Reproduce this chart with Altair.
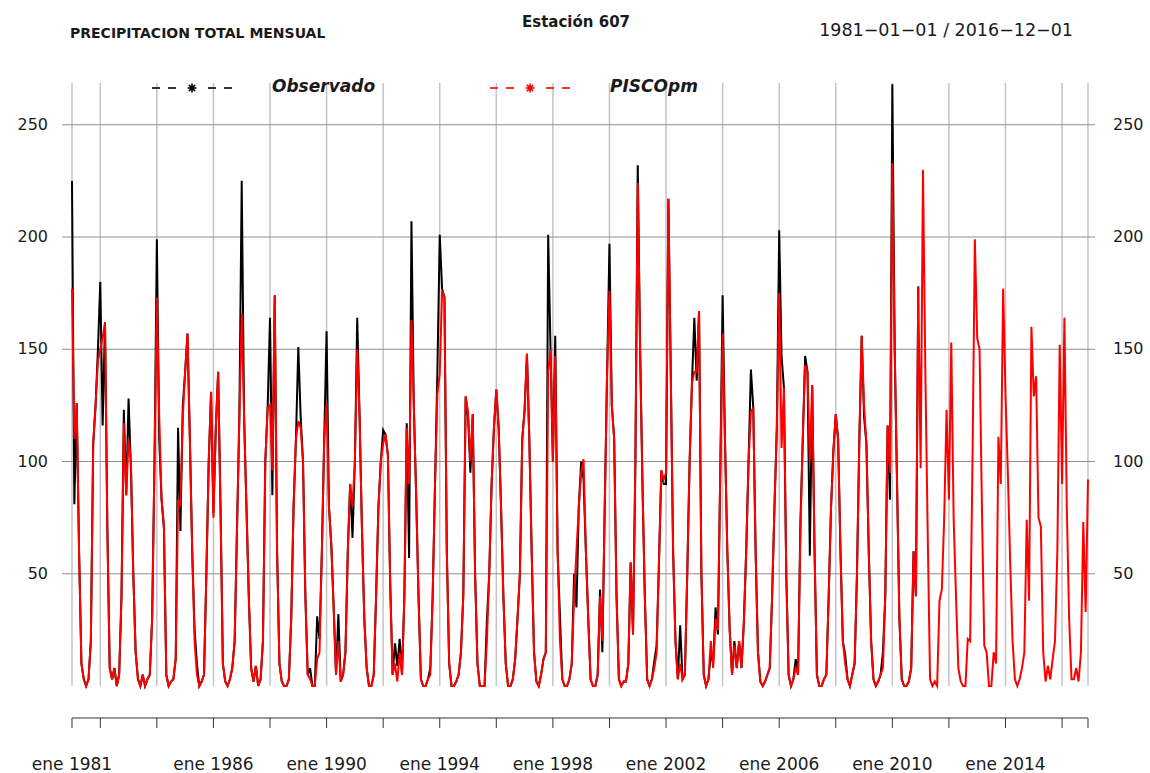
import altair as alt
import pandas as pd

# Monthly totals (mm), one row per year, January..December
PISCO_1981_1990 = [
    [177, 110, 126, 60, 10, 3, 0, 3, 20, 108, 125, 145],
    [150, 155, 162, 70, 8, 3, 8, 0, 5, 40, 117, 85],
    [110, 100, 50, 15, 3, 0, 5, 0, 3, 5, 30, 100],
    [173, 120, 83, 72, 5, 0, 2, 3, 12, 83, 81, 120],
    [140, 157, 110, 60, 20, 5, 0, 2, 5, 50, 100, 131],
    [75, 115, 140, 80, 10, 2, 0, 3, 8, 20, 70, 120],
    [166, 120, 80, 40, 8, 2, 9, 0, 3, 20, 100, 124],
    [125, 96, 174, 60, 10, 2, 0, 0, 3, 30, 80, 110],
    [118, 115, 100, 40, 5, 3, 0, 0, 12, 15, 60, 110],
    [126, 80, 63, 35, 5, 20, 2, 5, 15, 60, 90, 80],
]
PISCO_1991_2000 = [
    [100, 150, 120, 70, 30, 8, 0, 0, 5, 40, 80, 100],
    [108, 112, 103, 45, 5, 10, 2, 15, 5, 40, 115, 90],
    [163, 125, 85, 40, 3, 0, 0, 3, 5, 40, 90, 130],
    [139, 176, 173, 60, 10, 0, 0, 2, 5, 15, 40, 129],
    [122, 100, 121, 50, 10, 0, 0, 0, 20, 50, 90, 115],
    [132, 115, 80, 40, 10, 0, 0, 3, 12, 30, 50, 110],
    [123, 148, 110, 60, 15, 2, 0, 5, 12, 15, 140, 150],
    [100, 147, 60, 20, 3, 0, 0, 3, 10, 40, 60, 80],
    [95, 101, 60, 30, 3, 0, 0, 5, 40, 20, 80, 140],
    [176, 125, 110, 40, 3, 0, 2, 2, 10, 55, 23, 100],
]
PISCO_2001_2010 = [
    [224, 150, 90, 40, 3, 0, 3, 8, 15, 55, 96, 92],
    [95, 217, 140, 60, 20, 3, 10, 3, 5, 50, 100, 135],
    [140, 140, 167, 50, 5, 0, 3, 20, 8, 30, 25, 95],
    [157, 110, 60, 25, 5, 18, 8, 20, 8, 28, 60, 100],
    [122, 124, 60, 15, 2, 0, 2, 5, 8, 40, 80, 115],
    [175, 106, 133, 50, 5, 0, 3, 8, 5, 68, 110, 143],
    [140, 100, 134, 60, 5, 0, 0, 3, 5, 40, 80, 105],
    [121, 110, 60, 20, 10, 3, 0, 5, 10, 50, 110, 156],
    [125, 108, 60, 20, 3, 0, 2, 5, 8, 40, 116, 95],
    [233, 150, 90, 30, 3, 0, 0, 2, 8, 60, 40, 178],
]
PISCO_2011_2016 = [
    [97, 230, 140, 68, 3, 0, 2, 0, 38, 43, 75, 123],
    [83, 153, 75, 40, 8, 2, 0, 0, 21, 20, 100, 199],
    [155, 150, 80, 18, 15, 0, 0, 15, 10, 111, 90, 177],
    [130, 95, 55, 20, 3, 0, 3, 8, 15, 74, 38, 160],
    [129, 138, 75, 71, 15, 2, 9, 3, 12, 20, 60, 152],
    [90, 164, 80, 30, 3, 3, 8, 2, 15, 73, 33, 92],
]

OBS_1981_1990 = [
    [225, 81, 126, 60, 10, 3, 0, 3, 20, 108, 125, 150],
    [180, 116, 162, 70, 8, 3, 8, 0, 5, 40, 123, 85],
    [128, 97, 50, 15, 3, 0, 5, 0, 3, 5, 30, 100],
    [199, 110, 83, 70, 5, 0, 2, 3, 12, 115, 69, 125],
    [140, 157, 110, 60, 25, 10, 0, 2, 5, 50, 100, 131],
    [77, 115, 140, 80, 10, 2, 0, 3, 8, 20, 70, 120],
    [225, 120, 80, 40, 8, 2, 9, 0, 3, 20, 100, 124],
    [164, 85, 174, 60, 10, 2, 0, 0, 3, 30, 80, 110],
    [151, 120, 100, 40, 5, 8, 0, 0, 31, 21, 60, 110],
    [158, 80, 63, 35, 5, 32, 2, 5, 15, 60, 90, 66],
]
OBS_1991_2000 = [
    [100, 164, 120, 70, 30, 8, 0, 0, 5, 40, 80, 100],
    [114, 112, 103, 45, 5, 19, 9, 21, 5, 40, 117, 57],
    [207, 125, 85, 40, 3, 0, 0, 3, 8, 40, 90, 140],
    [201, 177, 173, 60, 10, 0, 0, 2, 5, 15, 41, 129],
    [120, 95, 121, 50, 10, 0, 0, 0, 29, 50, 90, 115],
    [132, 115, 80, 40, 10, 0, 0, 3, 12, 30, 50, 110],
    [123, 148, 110, 60, 15, 2, 0, 5, 12, 15, 201, 150],
    [100, 156, 60, 31, 3, 0, 0, 3, 10, 50, 35, 80],
    [100, 92, 60, 30, 3, 0, 0, 5, 43, 15, 80, 140],
    [197, 125, 110, 40, 3, 0, 2, 2, 10, 55, 23, 100],
]
OBS_2001_2010 = [
    [232, 150, 90, 40, 3, 0, 3, 11, 18, 55, 96, 90],
    [90, 217, 140, 60, 20, 3, 27, 3, 5, 50, 100, 135],
    [164, 136, 167, 50, 5, 0, 3, 15, 10, 35, 23, 95],
    [174, 110, 60, 25, 5, 20, 8, 20, 8, 28, 60, 100],
    [141, 124, 60, 15, 2, 0, 2, 5, 8, 40, 80, 115],
    [203, 147, 133, 50, 5, 0, 3, 12, 5, 73, 110, 147],
    [140, 58, 134, 60, 5, 0, 0, 3, 5, 40, 80, 105],
    [121, 110, 60, 20, 14, 3, 0, 5, 10, 50, 110, 156],
    [120, 108, 60, 20, 3, 0, 2, 5, 15, 40, 116, 83],
    [268, 150, 90, 30, 3, 0, 0, 2, 8, 60, 40, 178],
]

Y_TICKS = [50, 100, 150, 200, 250]
GRID_YEARS = list(range(1982, 2017, 2))
LABEL_YEARS = [1981, 1986, 1990, 1994, 1998, 2002, 2006, 2010, 2014]
FIRST_YEAR = 1981
LAST_MONTH = 431

# page geometry (plot area inside a 1150x773 page)
LEFT, TOP, W, H = 62, 83, 1033, 603
X_DOMAIN = [-4.24, 433.97]
Y_DOMAIN = [0, 268.6]


def ax(px):
    return px - LEFT


def ay(py):
    return py - TOP


def to_frame(*blocks):
    rows = [r for b in blocks for r in b]
    return pd.DataFrame(
        [{"m": i * 12 + j, "v": v} for i, r in enumerate(rows) for j, v in enumerate(r)]
    )


pisco = to_frame(PISCO_1981_1990, PISCO_1991_2000, PISCO_2001_2010, PISCO_2011_2016)
obs = to_frame(OBS_1981_1990, OBS_1991_2000, OBS_2001_2010)

xs = alt.Scale(domain=X_DOMAIN, nice=False, zero=False)
ys = alt.Scale(domain=Y_DOMAIN, nice=False, zero=False)
X = lambda f: alt.X(f, type="quantitative", scale=xs, axis=None)
Y = lambda f: alt.Y(f, type="quantitative", scale=ys, axis=None)

FONT = "DejaVu Sans"
INK = "#1a1a1a"

grid_pos = [0] + [(y - FIRST_YEAR) * 12 for y in GRID_YEARS] + [LAST_MONTH]
vgrid_df = pd.DataFrame({"m": grid_pos})
hgrid_df = pd.DataFrame({"v": Y_TICKS})

vgrid = alt.Chart(vgrid_df).mark_rule(color="#c4c4c4", strokeWidth=1.5).encode(
    x=X("m"), y=alt.value(0), y2=alt.value(H)
)
hgrid = alt.Chart(hgrid_df).mark_rule(color="#8f8f8f", strokeWidth=1).encode(
    y=Y("v"), x=alt.value(0), x2=alt.value(W)
)

obs_line = alt.Chart(obs).mark_line(color="black", strokeWidth=2).encode(x=X("m"), y=Y("v"))
pisco_line = alt.Chart(pisco).mark_line(color="#ff0000", strokeWidth=2).encode(x=X("m"), y=Y("v"))

left_lab = alt.Chart(hgrid_df).mark_text(
    align="right", baseline="middle", font=FONT, fontSize=16, color=INK
).encode(y=Y("v"), x=alt.value(ax(48)), text=alt.Text("v:Q"))
right_lab = alt.Chart(hgrid_df).mark_text(
    align="left", baseline="middle", font=FONT, fontSize=16, color=INK
).encode(y=Y("v"), x=alt.value(ax(1113)), text=alt.Text("v:Q"))

# bottom time axis
AXIS_Y = ay(718)
axis_line = alt.Chart(pd.DataFrame({"a": [0], "b": [LAST_MONTH]})).mark_rule(
    color="#333333", strokeWidth=1
).encode(x=X("a"), x2="b", y=alt.value(AXIS_Y))
axis_ticks = alt.Chart(vgrid_df).mark_rule(color="#333333", strokeWidth=1).encode(
    x=X("m"), y=alt.value(AXIS_Y), y2=alt.value(AXIS_Y + 10)
)
lab_df = pd.DataFrame(
    {"m": [(y - FIRST_YEAR) * 12 for y in LABEL_YEARS], "t": [f"ene {y}" for y in LABEL_YEARS]}
)
axis_labels = alt.Chart(lab_df).mark_text(
    baseline="middle", font=FONT, fontSize=17, color=INK
).encode(x=X("m"), y=alt.value(ay(765)), text="t:N")


def label(txt, x, y, size, align="left", weight="normal", style="normal", color=INK):
    return alt.Chart(pd.DataFrame({"t": [txt]})).mark_text(
        align=align, baseline="middle", font=FONT, fontSize=size,
        fontWeight=weight, fontStyle=style, color=color,
    ).encode(x=alt.value(ax(x)), y=alt.value(ay(y)), text="t:N")


titles = [
    label("PRECIPITACION TOTAL MENSUAL", 70, 34, 14, weight="bold"),
    label("Estación 607", 576, 22, 15, align="center", weight="bold"),
    label("1981\u221201\u221201 / 2016\u221212\u221201", 1073, 31, 17.5, align="right"),
    label("Observado", 272, 87, 17, weight="bold", style="italic"),
    label("PISCOpm", 610, 87, 17, weight="bold", style="italic"),
]

ASTER = "M-1,0L1,0M0,-1L0,1M-0.7,-0.7L0.7,0.7M-0.7,0.7L0.7,-0.7"


def legend_key(x0, color):
    segs = pd.DataFrame({"a": [x0, x0 + 16, x0 + 56, x0 + 72]})
    segs["b"] = segs["a"] + 8
    dashes = alt.Chart(segs).mark_rule(color=color, strokeWidth=1.6).encode(
        x=alt.X("a:Q", scale=None, axis=None), x2="b", y=alt.value(ay(88))
    ).transform_calculate(a=f"datum.a - {LEFT}", b=f"datum.b - {LEFT}")
    star = alt.Chart(pd.DataFrame({"k": [0]})).mark_point(
        shape=ASTER, size=80, color=color, strokeWidth=1.6, filled=False, opacity=1
    ).encode(x=alt.value(ax(x0 + 40)), y=alt.value(ay(88)))
    return [dashes, star]


layers = [vgrid, hgrid, obs_line, pisco_line, left_lab, right_lab,
          axis_line, axis_ticks, axis_labels] + titles + legend_key(152, "black") + legend_key(490, "#ff0000")

chart = alt.layer(*layers).properties(
    width=W, height=H,
    autosize=alt.AutoSizeParams(type="none"),
    padding={"left": LEFT, "top": TOP, "right": 1150 - LEFT - W, "bottom": 773 - TOP - H},
    background="white",
).configure_view(stroke=None)

chart.save("out.html", embed_options={"renderer": "svg", "actions": False})
